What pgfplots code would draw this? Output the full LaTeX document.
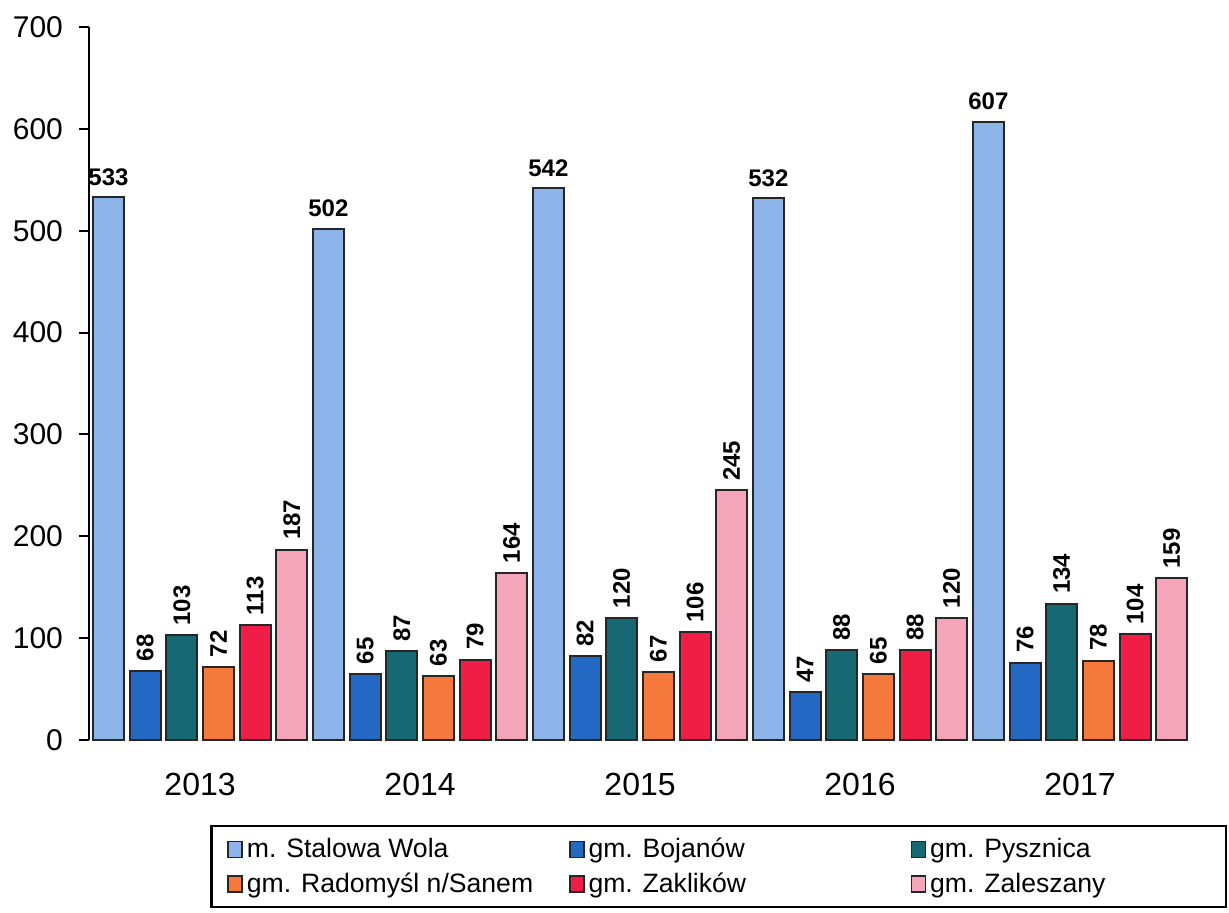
\documentclass[border=0pt]{standalone}
\usepackage{fontspec}
\setmainfont{Liberation Sans}
\usepackage{pgfplots}
\pgfplotsset{compat=1.18}

\definecolor{cStalowa}{RGB}{141,180,232}
\definecolor{cBojanow}{RGB}{35,105,195}
\definecolor{cPysznica}{RGB}{22,105,115}
\definecolor{cRadomysl}{RGB}{245,120,60}
\definecolor{cZaklikow}{RGB}{240,30,70}
\definecolor{cZaleszany}{RGB}{245,165,185}

\newcommand{\lentry}[1]{\makebox[159pt][l]{#1}}
\newcommand{\lentryb}[1]{\makebox[138pt][l]{#1}}

\begin{document}
\begin{tikzpicture}
\path[use as bounding box] (-44.5pt,-86pt) rectangle (570pt,370pt);
\begin{axis}[
    at={(0,0)}, anchor=south west,
    scale only axis,
    width=550.5pt, height=356.5pt,
    ybar=2.83pt, bar width=15.5pt,
    xmin=-0.505, xmax=4.5,
    ymin=0, ymax=700,
    ytick={0,100,...,700},
    xtick={0,1,2,3,4},
    xticklabels={2013,2014,2015,2016,2017},
    axis y line*=left,
    axis x line*=bottom,
    x axis line style={draw=none},
    major x tick style={draw=none},
    y axis line style={line width=1pt},
    major y tick style={line width=1pt, black},
    tick align=outside,
    major tick length=5pt,
    /pgf/number format/assume math mode=true,
    xticklabel style={font=\fontsize{16}{19}\selectfont, yshift=-8pt},
    yticklabel style={font=\fontsize{15}{18}\selectfont, xshift=-4.5pt},
    clip=false,
    legend columns=3,
    legend cell align=left,
    legend style={at={(0.11,-0.119)}, anchor=north west,
        draw=black, line width=1.2pt,
        font=\fontsize{13.3}{16}\selectfont,
        row sep=2pt, inner xsep=8pt, inner ysep=4pt},
    legend image code/.code={\draw[#1, line width=0.8pt] (0pt,-4pt) rectangle (7pt,4pt);},
    every node near coord/.append style={font=\bfseries\fontsize{12}{14}\selectfont, black},
]
\addplot[fill=cStalowa, draw=black!85, line width=1pt,
    nodes near coords, every node near coord/.append style={anchor=south, yshift=2pt}]
    coordinates {(0,533) (1,502) (2,542) (3,532) (4,607)};
\addplot[fill=cBojanow, draw=black!85, line width=1pt,
    nodes near coords, every node near coord/.append style={rotate=90, anchor=west, xshift=1pt}]
    coordinates {(0,68) (1,65) (2,82) (3,47) (4,76)};
\addplot[fill=cPysznica, draw=black!85, line width=1pt,
    nodes near coords, every node near coord/.append style={rotate=90, anchor=west, xshift=1pt}]
    coordinates {(0,103) (1,87) (2,120) (3,88) (4,134)};
\addplot[fill=cRadomysl, draw=black!85, line width=1pt,
    nodes near coords, every node near coord/.append style={rotate=90, anchor=west, xshift=1pt}]
    coordinates {(0,72) (1,63) (2,67) (3,65) (4,78)};
\addplot[fill=cZaklikow, draw=black!85, line width=1pt,
    nodes near coords, every node near coord/.append style={rotate=90, anchor=west, xshift=1pt}]
    coordinates {(0,113) (1,79) (2,106) (3,88) (4,104)};
\addplot[fill=cZaleszany, draw=black!85, line width=1pt,
    nodes near coords, every node near coord/.append style={rotate=90, anchor=west, xshift=1pt}]
    coordinates {(0,187) (1,164) (2,245) (3,120) (4,159)};
\legend{\lentry{m. Stalowa Wola}, \lentry{gm. Bojanów}, \lentryb{gm. Pysznica},
        \lentry{gm. Radomyśl n/Sanem}, \lentry{gm. Zaklików}, \lentryb{gm. Zaleszany}}
\end{axis}
\end{tikzpicture}
\end{document}
